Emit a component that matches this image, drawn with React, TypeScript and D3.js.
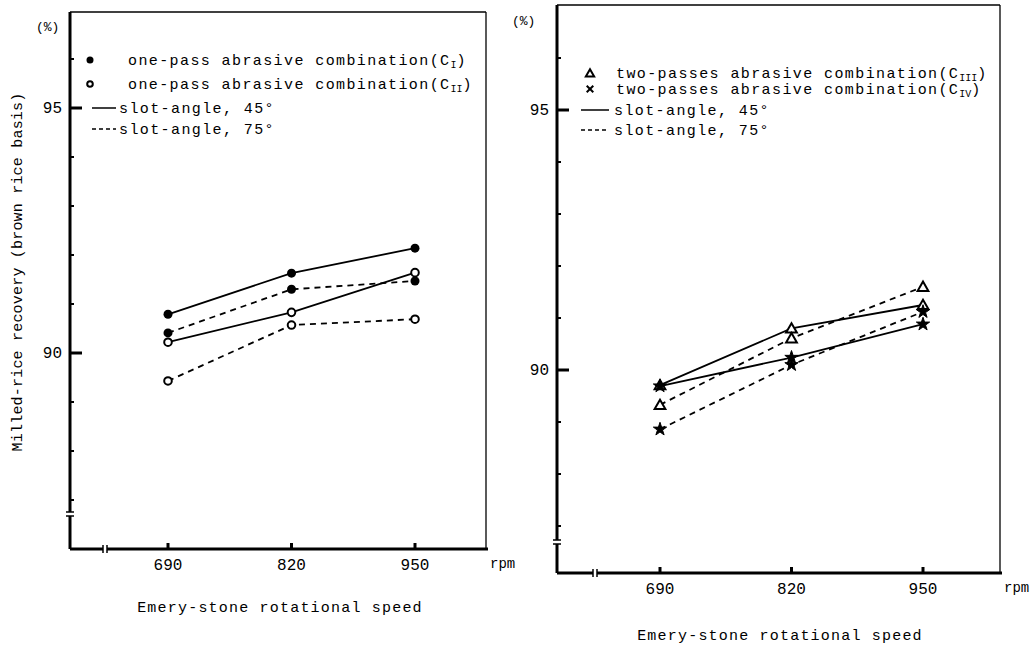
import React from "react";
import * as d3 from "d3";

const speeds = [690, 820, 950];
const yTicks = [87, 88, 89, 90, 91, 92, 93, 94, 95, 96];
const yLabels = [90, 95];

// Left panel: one-pass
const c1Slot45 = [90.79, 91.63, 92.14];
const c1Slot75 = [90.41, 91.3, 91.47];
const c2Slot45 = [90.22, 90.83, 91.64];
const c2Slot75 = [89.43, 90.57, 90.69];

// Right panel: two-passes
const c3Slot45 = [89.71, 90.8, 91.25];
const c3Slot75 = [89.33, 90.61, 91.6];
const c4Slot45 = [89.69, 90.24, 90.88];
const c4Slot75 = [88.86, 90.1, 91.12];

const FONT = "'Liberation Mono', 'DejaVu Sans Mono', monospace";

type Series = { values: number[]; marker: string; dashed: boolean };

const leftSeries: Series[] = [
  { values: c1Slot45, marker: "filled", dashed: false },
  { values: c1Slot75, marker: "filled", dashed: true },
  { values: c2Slot45, marker: "open", dashed: false },
  { values: c2Slot75, marker: "open", dashed: true },
];
const rightSeries: Series[] = [
  { values: c3Slot45, marker: "triangle", dashed: false },
  { values: c3Slot75, marker: "triangle", dashed: true },
  { values: c4Slot45, marker: "star", dashed: false },
  { values: c4Slot75, marker: "star", dashed: true },
];

function Marker({ kind, x, y, legend }: { kind: string; x: number; y: number; legend?: boolean }) {
  if (kind === "filled") return <circle cx={x} cy={y} r={legend ? 3.5 : 4.5} fill="#000" />;
  if (kind === "open")
    return <circle cx={x} cy={y} r={legend ? 2.8 : 3.8} fill="#fff" stroke="#000" strokeWidth={2} />;
  if (kind === "triangle") {
    const p = d3.symbol(d3.symbolTriangle, legend ? 30 : 50)();
    return <path d={p as string} transform={`translate(${x},${y + 1})`} fill="#fff" stroke="#000" strokeWidth={2} />;
  }
  if (legend) {
    const p = d3.symbol(d3.symbolTimes, 30)();
    return <path d={p as string} transform={`translate(${x},${y})`} fill="none" stroke="#000" strokeWidth={2} />;
  }
  const p = d3.symbol(d3.symbolStar, 55)();
  return <path d={p as string} transform={`translate(${x},${y})`} fill="#000" stroke="#000" strokeWidth={1} />;
}

type PanelProps = {
  left: number;
  right: number;
  top: number;
  bottom: number;
  xRange: [number, number];
  y90: number;
  y95: number;
  xBreak: number;
  yBreak: number;
  series: Series[];
  legend: { marker: string; main: string; sub: string }[];
  legendRows: number[];
  legendMarkerX: number;
  legendTextX: number;
  lineX1: number;
  lineX2: number;
  lineTextX: number;
  pctX: number;
  pctY: number;
  tickLabelY: number;
  titleY: number;
  titleX: number;
};

function Panel(p: PanelProps) {
  const x = d3.scaleLinear().domain([690, 950]).range(p.xRange);
  const y = d3.scaleLinear().domain([90, 95]).range([p.y90, p.y95]);
  const line = d3
    .line<number>()
    .x((_, i) => x(speeds[i]))
    .y((v) => y(v));
  return (
    <g>
      {/* frame */}
      <line x1={p.left} x2={p.right} y1={p.top} y2={p.top} stroke="#000" strokeWidth={1.3} />
      <line x1={p.right} x2={p.right} y1={p.top} y2={p.bottom} stroke="#000" strokeWidth={1.3} />
      {/* y axis with break */}
      <line x1={p.left} x2={p.left} y1={p.top} y2={p.yBreak - 2} stroke="#000" strokeWidth={3} />
      <line x1={p.left} x2={p.left} y1={p.yBreak + 2} y2={p.bottom} stroke="#000" strokeWidth={3} />
      <line x1={p.left - 4} x2={p.left + 4} y1={p.yBreak - 2} y2={p.yBreak - 2} stroke="#000" strokeWidth={1.5} />
      <line x1={p.left - 4} x2={p.left + 4} y1={p.yBreak + 2} y2={p.yBreak + 2} stroke="#000" strokeWidth={1.5} />
      {/* x axis with break */}
      <line x1={p.left} x2={p.xBreak - 2} y1={p.bottom} y2={p.bottom} stroke="#000" strokeWidth={3} />
      <line x1={p.xBreak + 2} x2={p.right + 2} y1={p.bottom} y2={p.bottom} stroke="#000" strokeWidth={3} />
      <line x1={p.xBreak - 2} x2={p.xBreak - 2} y1={p.bottom - 4} y2={p.bottom + 4} stroke="#000" strokeWidth={1.5} />
      <line x1={p.xBreak + 2} x2={p.xBreak + 2} y1={p.bottom - 4} y2={p.bottom + 4} stroke="#000" strokeWidth={1.5} />
      {/* y ticks */}
      {yTicks.map((t) => {
        const major = yLabels.includes(t);
        return (
          <line
            key={t}
            x1={p.left}
            x2={p.left + (major ? 12 : 4)}
            y1={y(t)}
            y2={y(t)}
            stroke="#000"
            strokeWidth={major ? 3 : 2}
          />
        );
      })}
      {yLabels.map((t) => (
        <text key={t} x={p.left - 8} y={y(t) + 5} textAnchor="end" fontSize={16} fontFamily={FONT}>
          {t}
        </text>
      ))}
      <text x={p.pctX} y={p.pctY} fontSize={13} fontFamily={FONT}>
        (%)
      </text>
      {/* x ticks */}
      {speeds.map((s) => (
        <g key={s}>
          <line x1={x(s)} x2={x(s)} y1={p.bottom} y2={p.bottom - 6} stroke="#000" strokeWidth={3} />
          <text x={x(s)} y={p.tickLabelY} textAnchor="middle" fontSize={16} fontFamily={FONT}>
            {s}
          </text>
        </g>
      ))}
      <text x={p.right + 4} y={p.tickLabelY - 2} fontSize={14} fontFamily={FONT}>
        rpm
      </text>
      <text x={p.titleX} y={p.titleY} textAnchor="middle" fontSize={15} fontFamily={FONT} letterSpacing={1.2}>
        Emery-stone rotational speed
      </text>
      {/* series */}
      {p.series.map((s, i) => (
        <path
          key={"l" + i}
          d={line(s.values) as string}
          fill="none"
          stroke="#000"
          strokeWidth={1.8}
          strokeDasharray={s.dashed ? "6 5" : undefined}
        />
      ))}
      {p.series.map((s, i) =>
        s.values.map((v, j) => <Marker key={"m" + i + "-" + j} kind={s.marker} x={x(speeds[j])} y={y(v)} />)
      )}
      {/* legend */}
      {p.legend.map((l, i) => {
        const isLine = l.marker === "solid" || l.marker === "dashed";
        return (
          <g key={"lg" + i}>
            {isLine ? (
              <line
                x1={p.lineX1}
                x2={p.lineX2}
                y1={p.legendRows[i]}
                y2={p.legendRows[i]}
                stroke="#000"
                strokeWidth={1.5}
                strokeDasharray={l.marker === "dashed" ? "4 3" : undefined}
              />
            ) : (
              <Marker kind={l.marker} x={p.legendMarkerX} y={p.legendRows[i]} legend />
            )}
            <text
              x={isLine ? p.lineTextX : p.legendTextX}
              y={p.legendRows[i] + 5}
              fontSize={15}
              fontFamily={FONT}
              letterSpacing={1.4}
            >
              {l.main}
              {l.sub ? (
                <>
                  <tspan>(C</tspan>
                  <tspan fontSize={10} dy={3} letterSpacing={0}>
                    {l.sub}
                  </tspan>
                  <tspan dy={-3}>)</tspan>
                </>
              ) : null}
            </text>
          </g>
        );
      })}
    </g>
  );
}

const leftLegend = [
  { marker: "filled", main: "one-pass abrasive combination", sub: "I" },
  { marker: "open", main: "one-pass abrasive combination", sub: "II" },
  { marker: "solid", main: "slot-angle, 45°", sub: "" },
  { marker: "dashed", main: "slot-angle, 75°", sub: "" },
];
const rightLegend = [
  { marker: "triangle", main: "two-passes abrasive combination", sub: "III" },
  { marker: "star", main: "two-passes abrasive combination", sub: "IV" },
  { marker: "solid", main: "slot-angle, 45°", sub: "" },
  { marker: "dashed", main: "slot-angle, 75°", sub: "" },
];

export default function App() {
  return (
    <svg
      width={1030}
      height={647}
      style={{ position: "absolute", left: 0, top: 0, background: "#fff" }}
    >
      <rect width={1030} height={647} fill="#fff" />
      <Panel
        left={70}
        right={486}
        top={12}
        bottom={549}
        xRange={[168, 415]}
        y90={353}
        y95={108}
        xBreak={105}
        yBreak={514}
        series={leftSeries}
        legend={leftLegend}
        legendRows={[60, 84, 108, 129]}
        legendMarkerX={90}
        legendTextX={128}
        lineX1={92}
        lineX2={116}
        lineTextX={119}
        pctX={36}
        pctY={31}
        tickLabelY={570}
        titleY={612}
        titleX={280}
      />
      <text
        transform="translate(22,272) rotate(-90)"
        textAnchor="middle"
        fontSize={15}
        fontFamily={FONT}
        letterSpacing={0.2}
      >
        Milled-rice recovery (brown rice basis)
      </text>
      <Panel
        left={557}
        right={1000}
        top={5}
        bottom={573}
        xRange={[660, 923]}
        y90={370}
        y95={110}
        xBreak={595}
        yBreak={542}
        series={rightSeries}
        legend={rightLegend}
        legendRows={[73, 89, 110, 130]}
        legendMarkerX={590}
        legendTextX={616}
        lineX1={581}
        lineX2={609}
        lineTextX={614}
        pctX={512}
        pctY={25}
        tickLabelY={594}
        titleY={640}
        titleX={780}
      />
    </svg>
  );
}
